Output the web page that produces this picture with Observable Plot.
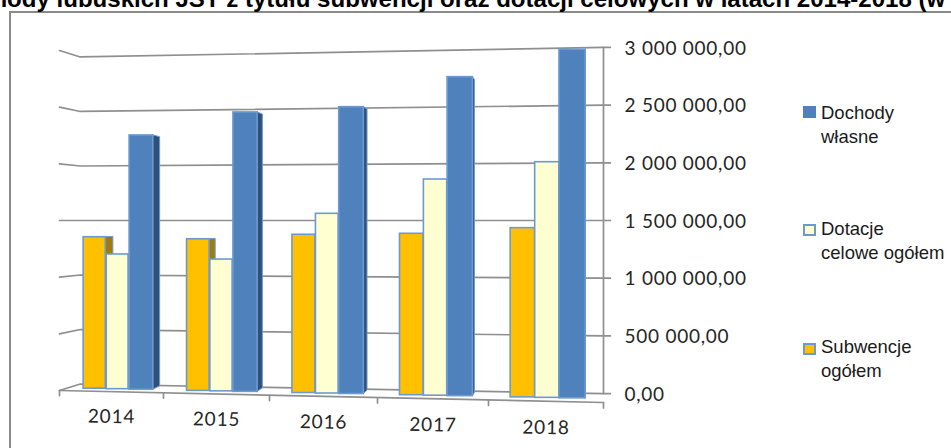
<!DOCTYPE html>
<html lang="pl"><head><meta charset="utf-8">
<script src="https://cdn.jsdelivr.net/npm/d3@7"></script>
<script src="https://cdn.jsdelivr.net/npm/@observablehq/plot@0.6"></script>
<style>
html,body{margin:0;padding:0;background:#fff;width:951px;height:448px;overflow:hidden}
#root{position:relative;width:951px;height:448px;overflow:hidden}
#root svg{position:absolute;left:0;top:0}
#root svg text{letter-spacing:.75px}
#frame{position:absolute;left:9px;top:11px;width:960px;height:460px;border-left:2px solid #8a8a8a;border-top:2px solid #8a8a8a}
#title{position:absolute;left:-53px;top:-15.5px;white-space:nowrap;font:bold 24.05px/28px "Liberation Sans",Arial,sans-serif;color:#000}
.lg{position:absolute;left:821px;font:18.5px/24px "Liberation Sans",Arial,sans-serif;color:#1a1a1a;white-space:nowrap}
.sw{position:absolute;left:803px;width:13px;height:12px;box-sizing:border-box}
</style></head><body><div id="root"></div>
<script>
const years = ["2014","2015","2016","2017","2018"];
const subwencje = [1351000,1335000,1376000,1386000,1435000];
const dotacje   = [1198000,1157000,1558000,1851000,1993000];
const dochody   = [2254000,2446000,2480000,2724000,2940000];
const yTicks = [0,500000,1000000,1500000,2000000,2500000,3000000];
const yLabels = ["0,00","500 000,00","1 000 000,00","1 500 000,00","2 000 000,00","2 500 000,00","3 000 000,00"];
const seriesNames = ["Subwencje ogółem","Dotacje celowe ogółem","Dochody własne"];
const seriesValues = [subwencje,dotacje,dochody];
const fills = ["#ffc000","#ffffd2","#4f81bd"];
const sideFills = ["#9c7c12","#c9c9a0","#2f5078"];
const edge = "#6c9ad0", gridColor = "#8f8f8f";

// perspective: values converge on the horizon level while depth/position change the apparent scale
const horizon = 1500000;
const proj = (v,f) => horizon + (v-horizon)*f;
const backF = u => 0.962 + (u-0.2)*(1.018-0.962)/4.8;
const barF = u => 0.985 + 0.0129*u;
const frontF = u => 1 + u*0.01412;
const slot = i => 0.232 - 0.0098*i;
const wid = [0.213,0.21,0.228];
const off = [0,0.222,0.442];

const bars = [], sides = [];
seriesValues.forEach((vals,s)=>{
  vals.forEach((v,i)=>{
    const a = i+slot(i)+off[s]*(1-0.01*i), b = a+wid[s];
    const f = barF((a+b)/2), sw = 0.016*(5-b);
    bars.push({s,year:years[i],v,a,b,top:proj(v,f),bot:proj(0,f)});
    sides.push({s,id:s+"-"+i,u:b,top:proj(v,f),bot:proj(0,f)});
    sides.push({s,id:s+"-"+i,u:b+sw,top:proj(v,f*0.98),bot:proj(0,f*0.98)});
  });
});
const grid = yTicks.flatMap(v=>[
  {v,u:0,y:proj(v,1)},
  {v,u:0.2,y:proj(v,backF(0.2))},
  {v,u:5,y:proj(v,backF(5))},
  {v,u:5.06,y:proj(v,backF(5))}
]);
const floorFront = [{u:0,y:proj(0,frontF(0))},{u:5,y:proj(0,frontF(5))}];
const rightAxis = [{u:5,y:proj(3000000,backF(5))},{u:5,y:proj(0,backF(5))}];
const floorTicks = d3.range(0,6).flatMap(u=>[
  {u,y:proj(0,frontF(u))},{u,y:proj(-45000,frontF(u))}
]);
const labelY = (d,i)=>proj(yTicks[i],backF(5));

const chart = Plot.plot({
  width:951,height:448,margin:0,
  x:{type:"linear",domain:[0,1,2,3,4,5],range:[59,163,269,377,488,603],axis:null},
  y:{type:"linear",domain:[0,3000000],range:[390,50],axis:null},
  marks:[
    Plot.line(grid,{x:"u",y:"y",z:"v",stroke:gridColor,strokeWidth:1.7}),
    Plot.line(floorFront,{x:"u",y:"y",stroke:gridColor,strokeWidth:1.7}),
    Plot.line(rightAxis,{x:"u",y:"y",stroke:gridColor,strokeWidth:1.7}),
    Plot.line(floorTicks,{x:"u",y:"y",z:(d,i)=>Math.floor(i/2),stroke:gridColor,strokeWidth:1.7}),
    ...[0,1,2].map(s=>Plot.area(sides.filter(d=>d.s===s),{x1:"u",y1:"top",y2:"bot",z:"id",fill:sideFills[s],stroke:edge,strokeWidth:1})),
    ...[0,1,2].map(s=>Plot.rect(bars.filter(d=>d.s===s),{x1:"a",x2:"b",y1:"bot",y2:"top",fill:fills[s],stroke:edge,strokeWidth:1.6})),
    Plot.text(years,{x:(d,i)=>i+0.5,y:(d,i)=>proj(-220000,frontF(i+0.5)),text:d=>d,rotate:1,fontFamily:"Lato",fontSize:19,fill:"#262626"}),
    Plot.text(yLabels,{x:5,dx:21,dy:1,y:labelY,text:d=>d,textAnchor:"start",fontFamily:"Lato",fontSize:19,fill:"#262626"})
  ]
});
const root = document.getElementById("root");
root.innerHTML = '<div id="frame"></div>';
root.appendChild(chart);
const extra = [
 ['<div id="title">Dochody lubuskich JST z tytułu subwencji oraz dotacji celowych w latach 2014-2018 (w</div>'],
 ['<div class="sw" style="top:106px;background:#4f81bd"></div>'],
 ['<div class="sw" style="top:224px;background:#ffffd2;border:2px solid #6c9ad0"></div>'],
 ['<div class="sw" style="top:343px;background:#ffc000;border:2px solid #6c9ad0"></div>'],
 ['<div class="lg" style="top:101px">Dochody<br>własne</div>'],
 ['<div class="lg" style="top:217px">Dotacje<br>celowe ogółem</div>'],
 ['<div class="lg" style="top:335px">Subwencje<br>ogółem</div>']
];
root.insertAdjacentHTML("beforeend",extra.join(""));
</script></body></html>
